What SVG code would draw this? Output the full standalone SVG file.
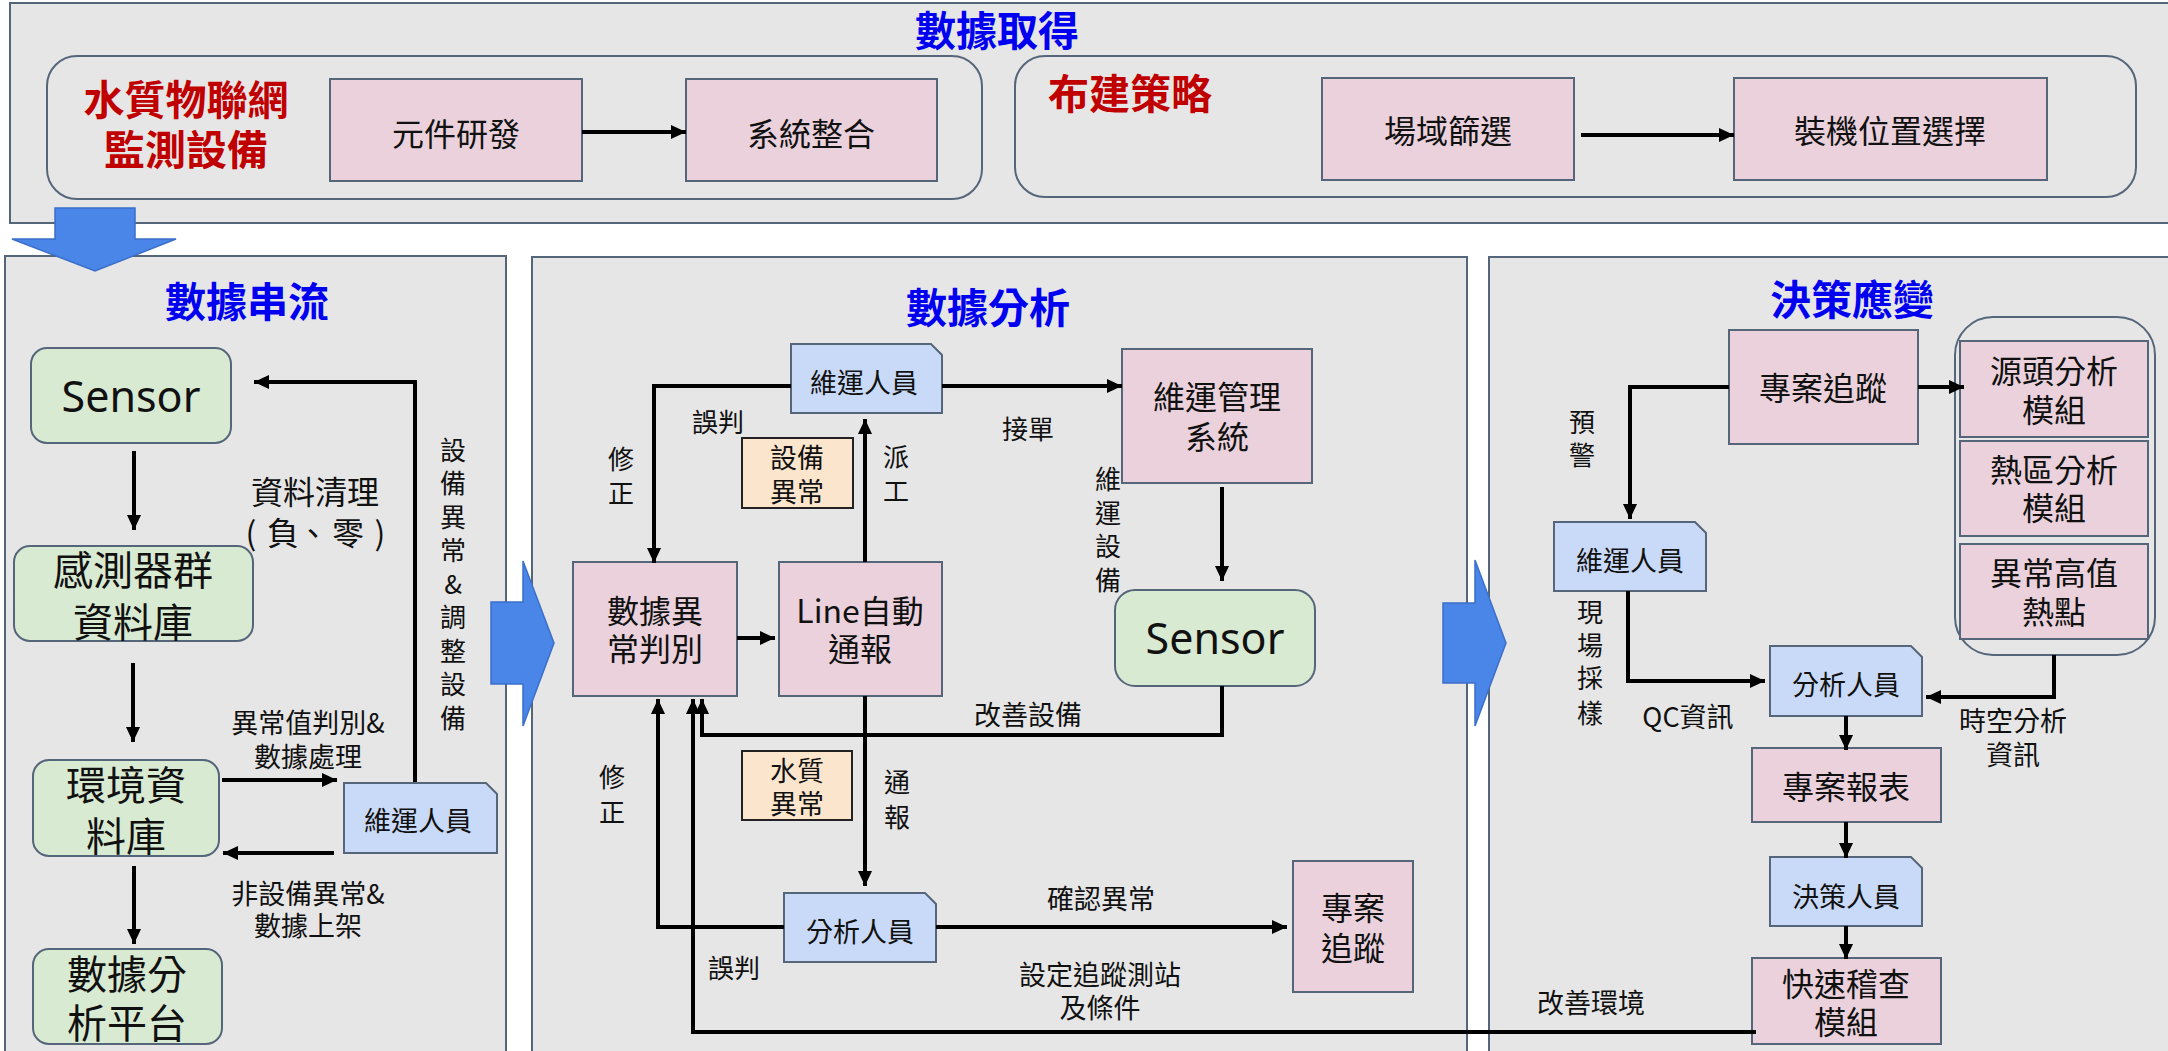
<svg xmlns="http://www.w3.org/2000/svg" width="2168" height="1051" viewBox="0 0 2168 1051">
<defs>
<style>
.panel{fill:#E6E6E6;stroke:#56667A;stroke-width:2}
.grp{fill:none;stroke:#56667A;stroke-width:2}
.pink{fill:#EAD1DC;stroke:#56667A;stroke-width:2}
.green{fill:#D9EAD3;stroke:#56667A;stroke-width:2}
.person{fill:#C9DAF8;stroke:#56667A;stroke-width:2}
.orange{fill:#FCE5CD;stroke:#222;stroke-width:2}
.bigarrow{fill:#4A86E8;stroke:#3B6FC9;stroke-width:1.5}
.c{fill:none;stroke:#000;stroke-width:4;marker-end:url(#ah)}
.t{font-family:"Noto Sans CJK TC","Noto Sans",sans-serif;fill:#111;text-anchor:middle;dominant-baseline:central}
.title{font-size:41px;font-weight:bold;fill:#0000F0}
.red{font-size:41px;font-weight:bold;fill:#C00000}
.f32{font-size:32px}
.f40{font-size:40px}
.f27{font-size:27px}
.f26{font-size:26px}
.sensor{font-family:"Noto Sans",sans-serif;font-size:43px}
</style>
<marker id="ah" markerUnits="userSpaceOnUse" markerWidth="16" markerHeight="14" refX="15" refY="7" orient="auto">
<path d="M0,0 L15,7 L0,14 z" fill="#000"/>
</marker>
</defs>

<!-- panels -->
<g id="panels">
<rect class="panel" x="10" y="3" width="2170" height="220"/>
<rect class="panel" x="5" y="256" width="501" height="800"/>
<rect class="panel" x="532" y="257" width="935" height="800"/>
<rect class="panel" x="1489" y="257" width="690" height="800"/>
</g>

<!-- big arrows -->
<g id="big-arrows">
<polygon class="bigarrow" points="55,208 135,208 135,239 176,239 95,271 12,239 55,239"/>
<polygon class="bigarrow" points="491,602 523,602 523,561 554,643 523,726 523,684 491,684"/>
<polygon class="bigarrow" points="1443,603 1475,603 1475,560 1506,643 1475,726 1475,683 1443,683"/>
</g>

<!-- titles -->
<g id="titles">
<text class="t title" x="997" y="28">數據取得</text>
<text class="t title" x="247" y="299">數據串流</text>
<text class="t title" x="988" y="305">數據分析</text>
<text class="t title" x="1852" y="297">決策應變</text>
</g>

<!-- top section -->
<g id="grp-iot">
<rect class="grp" x="47" y="56" width="935" height="143" rx="30"/>
<text class="t red" x="186" y="97">水質物聯網</text>
<text class="t red" x="186" y="147">監測設備</text>
</g>
<g id="grp-strategy">
<rect class="grp" x="1015" y="56" width="1121" height="141" rx="30"/>
<text class="t red" x="1130" y="91">布建策略</text>
</g>
<g id="n-dev"><rect class="pink" x="330" y="79" width="252" height="102"/><text class="t f32" x="456" y="132">元件研發</text></g>
<g id="n-int"><rect class="pink" x="686" y="79" width="251" height="102"/><text class="t f32" x="811" y="132">系統整合</text></g>
<g id="n-site"><rect class="pink" x="1322" y="78" width="252" height="102"/><text class="t f32" x="1448" y="129">場域篩選</text></g>
<g id="n-loc"><rect class="pink" x="1734" y="78" width="313" height="102"/><text class="t f32" x="1890" y="129">裝機位置選擇</text></g>

<!-- left panel nodes -->
<g id="n-sensor1"><rect class="green" x="31" y="348" width="200" height="95" rx="16"/><text class="t sensor" x="131" y="395">Sensor</text></g>
<g id="n-sensordb"><rect class="green" x="14" y="546" width="239" height="95" rx="16"/><text class="t f40" x="133" y="568">感測器群</text><text class="t f40" x="133" y="620">資料庫</text></g>
<g id="n-envdb"><rect class="green" x="33" y="760" width="186" height="96" rx="16"/><text class="t f40" x="126" y="783">環境資</text><text class="t f40" x="126" y="834">料庫</text></g>
<g id="n-platform"><rect class="green" x="33" y="949" width="189" height="95" rx="16"/><text class="t f40" x="127" y="972">數據分</text><text class="t f40" x="127" y="1021">析平台</text></g>
<g id="n-ops1"><path class="person" d="M344,783 H486 L497,794 V853 H344 Z"/><text class="t f27" x="418" y="819">維運人員</text></g>

<!-- middle panel nodes -->
<g id="n-ops2"><path class="person" d="M791,344 H931 L942,355 V413 H791 Z"/><text class="t f27" x="864" y="381">維運人員</text></g>
<g id="n-devabn"><rect class="orange" x="742" y="438" width="111" height="70"/><text class="t f27" x="797" y="456">設備</text><text class="t f27" x="797" y="490">異常</text></g>
<g id="n-judge"><rect class="pink" x="573" y="562" width="164" height="134"/><text class="t f32" x="655" y="609">數據異</text><text class="t f32" x="655" y="647">常判別</text></g>
<g id="n-line"><rect class="pink" x="779" y="562" width="163" height="134"/><text class="t f32" x="860" y="609">Line自動</text><text class="t f32" x="860" y="647">通報</text></g>
<g id="n-oms"><rect class="pink" x="1122" y="349" width="190" height="134"/><text class="t f32" x="1217" y="395">維運管理</text><text class="t f32" x="1217" y="435">系統</text></g>
<g id="n-sensor2"><rect class="green" x="1115" y="590" width="200" height="96" rx="20"/><text class="t sensor" x="1215" y="637">Sensor</text></g>
<g id="n-wqabn"><rect class="orange" x="742" y="751" width="110" height="69"/><text class="t f27" x="797" y="769">水質</text><text class="t f27" x="797" y="802">異常</text></g>
<g id="n-analyst1"><path class="person" d="M784,893 H925 L936,904 V962 H784 Z"/><text class="t f27" x="860" y="930">分析人員</text></g>
<g id="n-track1"><rect class="pink" x="1293" y="861" width="120" height="131"/><text class="t f32" x="1353" y="906">專案</text><text class="t f32" x="1353" y="946">追蹤</text></g>

<!-- right panel nodes -->
<g id="n-track2"><rect class="pink" x="1729" y="330" width="189" height="114"/><text class="t f32" x="1823" y="386">專案追蹤</text></g>
<g id="grp-modules"><rect class="grp" x="1955" y="317" width="200" height="338" rx="38"/></g>
<g id="n-src"><rect class="pink" x="1960" y="341" width="188" height="96"/><text class="t f32" x="2054" y="369">源頭分析</text><text class="t f32" x="2054" y="408">模組</text></g>
<g id="n-hot"><rect class="pink" x="1960" y="441" width="188" height="95"/><text class="t f32" x="2054" y="468">熱區分析</text><text class="t f32" x="2054" y="506">模組</text></g>
<g id="n-high"><rect class="pink" x="1960" y="544" width="188" height="95"/><text class="t f32" x="2054" y="571">異常高值</text><text class="t f32" x="2054" y="610">熱點</text></g>
<g id="n-ops3"><path class="person" d="M1554,522 H1695 L1706,533 V591 H1554 Z"/><text class="t f27" x="1630" y="559">維運人員</text></g>
<g id="n-analyst2"><path class="person" d="M1770,646 H1911 L1922,657 V716 H1770 Z"/><text class="t f27" x="1846" y="683">分析人員</text></g>
<g id="n-report"><rect class="pink" x="1752" y="748" width="189" height="74"/><text class="t f32" x="1846" y="785">專案報表</text></g>
<g id="n-decision"><path class="person" d="M1770,857 H1911 L1922,868 V926 H1770 Z"/><text class="t f27" x="1846" y="895">決策人員</text></g>
<g id="n-audit"><rect class="pink" x="1752" y="958" width="189" height="86"/><text class="t f32" x="1846" y="982">快速稽查</text><text class="t f32" x="1846" y="1020">模組</text></g>

<!-- connectors -->
<g id="connectors">
<path class="c" d="M582,132 H686"/>
<path class="c" d="M1581,135 H1734"/>
<path class="c" d="M134,451 V530"/>
<path class="c" d="M133,663 V742"/>
<path class="c" d="M134,866 V944"/>
<path class="c" d="M222,780 H337"/>
<path class="c" d="M334,853 H223"/>
<path class="c" d="M415,782 V382 H254"/>
<path class="c" d="M791,386 H654 V563"/>
<path class="c" d="M942,386 H1122"/>
<path class="c" d="M865,562 V419"/>
<path class="c" d="M737,638 H775"/>
<path class="c" d="M1222,487 V581"/>
<path class="c" d="M1222,686 V735 H702 V699"/>
<path class="c" d="M865,696 V886"/>
<path class="c" d="M936,927 H1287"/>
<path class="c" d="M784,927 H658 V699"/>
<path class="c" d="M1756,1032 H693 V699"/>
<path class="c" d="M1918,387 H1964"/>
<path class="c" d="M1729,387 H1630 V519"/>
<path class="c" d="M1628,591 V681 H1765"/>
<path class="c" d="M2054,655 V697 H1926"/>
<path class="c" d="M1846,716 V750"/>
<path class="c" d="M1846,822 V858"/>
<path class="c" d="M1846,926 V959"/>
</g>

<!-- connector labels -->
<g id="labels">
<text class="t f32" x="315" y="490">資料清理</text>
<text class="t f32" x="251" y="531">(</text>
<text class="t f32" x="283" y="531">負</text>
<text class="t f32" x="313" y="531">、</text>
<text class="t f32" x="348" y="531">零</text>
<text class="t f32" x="380" y="531">)</text>
<text class="t f27" x="308" y="721">異常值判別&amp;</text>
<text class="t f27" x="308" y="755">數據處理</text>
<text class="t f27" x="308" y="892">非設備異常&amp;</text>
<text class="t f27" x="308" y="924">數據上架</text>
<text class="t f26" x="453" y="448">設</text>
<text class="t f26" x="453" y="481">備</text>
<text class="t f26" x="453" y="515">異</text>
<text class="t f26" x="453" y="548">常</text>
<text class="t f26" x="453" y="582">&amp;</text>
<text class="t f26" x="453" y="615">調</text>
<text class="t f26" x="453" y="649">整</text>
<text class="t f26" x="453" y="682">設</text>
<text class="t f26" x="453" y="716">備</text>
<text class="t f26" x="718" y="420">誤判</text>
<text class="t f26" x="621" y="457">修</text>
<text class="t f26" x="621" y="491">正</text>
<text class="t f26" x="1028" y="427">接單</text>
<text class="t f26" x="896" y="455">派</text>
<text class="t f26" x="896" y="489">工</text>
<text class="t f26" x="1108" y="477">維</text>
<text class="t f26" x="1108" y="511">運</text>
<text class="t f26" x="1108" y="544">設</text>
<text class="t f26" x="1108" y="578">備</text>
<text class="t f27" x="1028" y="713">改善設備</text>
<text class="t f26" x="897" y="780">通</text>
<text class="t f26" x="897" y="815">報</text>
<text class="t f26" x="612" y="775">修</text>
<text class="t f26" x="612" y="810">正</text>
<text class="t f27" x="1101" y="897">確認異常</text>
<text class="t f27" x="1100" y="973">設定追蹤測站</text>
<text class="t f27" x="1100" y="1006">及條件</text>
<text class="t f26" x="734" y="966">誤判</text>
<text class="t f26" x="1582" y="420">預</text>
<text class="t f26" x="1582" y="453">警</text>
<text class="t f26" x="1590" y="610">現</text>
<text class="t f26" x="1590" y="643">場</text>
<text class="t f26" x="1590" y="676">採</text>
<text class="t f26" x="1590" y="711">樣</text>
<text class="t f27" x="1688" y="715">QC資訊</text>
<text class="t f27" x="2013" y="719">時空分析</text>
<text class="t f27" x="2013" y="753">資訊</text>
<text class="t f27" x="1591" y="1001">改善環境</text>
</g>
</svg>
